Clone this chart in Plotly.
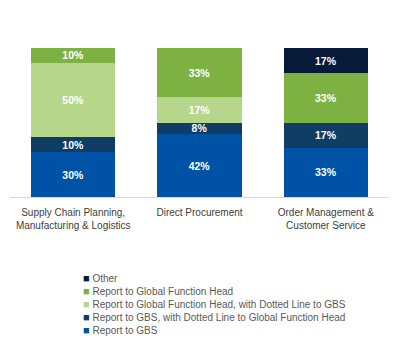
import plotly.graph_objects as go

categories = ["Supply Chain Planning,<br>Manufacturing & Logistics",
              "Direct Procurement",
              "Order Management &<br>Customer Service"]

series_names = ["Report to GBS",
                "Report to GBS, with Dotted Line to Global Function Head",
                "Report to Global Function Head, with Dotted Line to GBS",
                "Report to Global Function Head",
                "Other"]

report_to_gbs = [30, 42, 33]
gbs_dotted_gfh = [10, 8, 17]
gfh_dotted_gbs = [50, 17, 0]
report_to_gfh = [10, 33, 33]
other = [0, 0, 17]

values = [report_to_gbs, gbs_dotted_gfh, gfh_dotted_gbs, report_to_gfh, other]
colors = ["#0052A6", "#0F3D64", "#B6D68C", "#7DB243", "#071A3A"]

FONT = "Liberation Sans, Arial, sans-serif"

fig = go.Figure()
for name, vals, col in zip(series_names, values, colors):
    fig.add_trace(go.Bar(
        x=categories, y=vals, name=name,
        marker=dict(color=col, line=dict(width=0)),
        text=[f"{v}%" if v > 0 else "" for v in vals],
        textposition="inside", insidetextanchor="middle",
        textfont=dict(color="white", size=10.5, family=FONT, weight="bold"),
        showlegend=False, hoverinfo="skip",
    ))

# compact legend: coloured squares + series names (top entry = top of stack)
legend_lines = [
    f'<span style="color:{col};font-size:11px">■</span> {name}'
    for name, col in reversed(list(zip(series_names, colors)))
]
fig.add_annotation(
    xref="paper", yref="paper", x=0.187, y=-0.49,
    xanchor="left", yanchor="top", align="left", showarrow=False,
    text="<br>".join(legend_lines),
    font=dict(family=FONT, size=10, color="#595959"),
)

fig.update_layout(
    barmode="stack",
    bargap=0.335,
    width=400, height=349,
    margin=dict(l=10, r=11, t=48, b=152),
    paper_bgcolor="white", plot_bgcolor="white",
    font=dict(family=FONT, size=10, color="#404040"),
    uniformtext=dict(minsize=10.5, mode="show"),
    showlegend=False,
    xaxis=dict(showline=True, linecolor="#D9D9D9", linewidth=1,
               ticks="", ticklabelstandoff=6,
               tickfont=dict(size=10, color="#404040", family=FONT),
               showgrid=False),
    yaxis=dict(range=[0, 100], visible=False, showgrid=False),
)

fig.write_html("out.html")
